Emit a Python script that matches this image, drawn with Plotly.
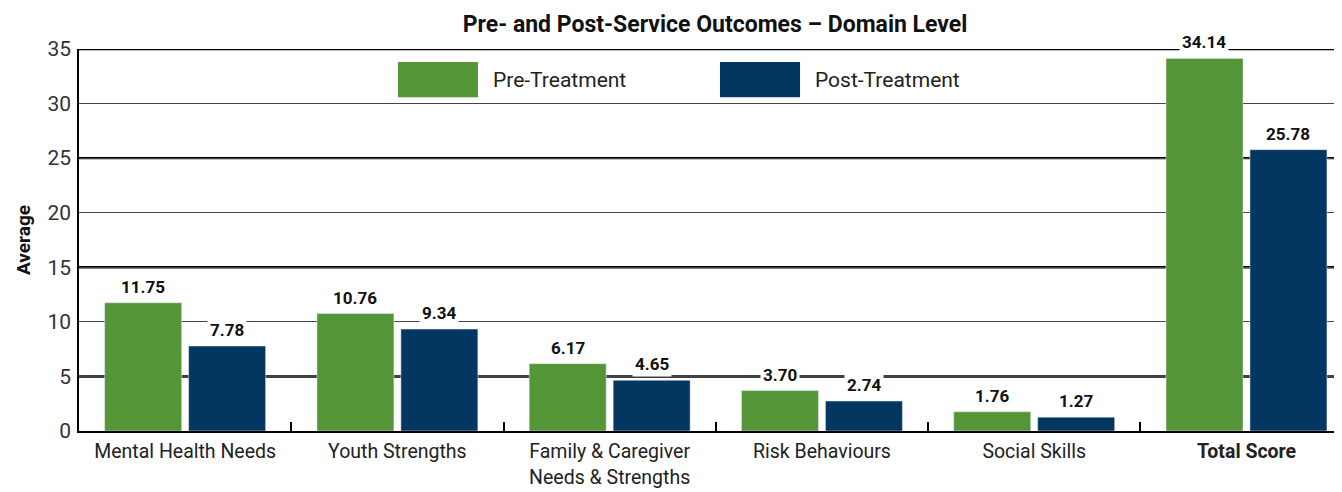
import plotly.graph_objects as go

categories = ["Mental Health Needs", "Youth Strengths", "Family & Caregiver<br>Needs & Strengths",
              "Risk Behaviours", "Social Skills", "<b>Total Score</b>"]
pre_values = [11.75, 10.76, 6.17, 3.70, 1.76, 34.14]
post_values = [7.78, 9.34, 4.65, 2.74, 1.27, 25.78]
series_names = ["Pre-Treatment", "Post-Treatment"]
y_ticks = [0, 5, 10, 15, 20, 25, 30, 35]
thick_grid = [5, 15, 25, 35]

GREEN = "#539537"
NAVY = "#033660"
FONT = "Roboto"

fig = go.Figure()
fig.add_bar(x=categories, y=pre_values, name=series_names[0], marker_color=GREEN, showlegend=False)
fig.add_bar(x=categories, y=post_values, name=series_names[1], marker_color=NAVY, showlegend=False)

annotations = []
for vals, shift in ((pre_values, -42), (post_values, 42)):
    for c, v in zip(categories, vals):
        annotations.append(dict(x=c, y=v, xref="x", yref="y", text=f"<b>{v:.2f}</b>",
                                showarrow=False, yanchor="bottom", xshift=shift, yshift=3,
                                bgcolor="white", borderpad=2,
                                font=dict(family=FONT, size=17, color="#111")))

# custom legend
leg = [(series_names[0], GREEN, 0.2526, 0.3159), (series_names[1], NAVY, 0.5075, 0.5709)]
shapes = []
for name, col, x0, x1 in leg:
    shapes.append(dict(type="rect", xref="paper", yref="paper", x0=x0, x1=x1, y0=0.874, y1=0.966,
                       fillcolor=col, line=dict(width=0)))
    annotations.append(dict(x=x1 + 0.0103, y=0.918, xref="paper", yref="paper", text=name,
                            showarrow=False, xanchor="left", yanchor="middle",
                            font=dict(family=FONT, size=21, color="#222")))
for g in thick_grid:
    shapes.append(dict(type="line", xref="paper", yref="y", x0=0, x1=1, y0=g, y1=g,
                       line=dict(color="black", width=2.4), layer="below"))

fig.update_layout(
    width=1334, height=484,
    margin=dict(l=71, r=0, t=41, b=61),
    paper_bgcolor="white", plot_bgcolor="white",
    barmode="group", bargap=0.209, bargroupgap=0.083,
    title=dict(text="<b>Pre- and Post-Service Outcomes – Domain Level</b>", x=0.53, xanchor="center",
               y=0.967, yanchor="middle", font=dict(family=FONT, size=23, color="#111")),
    font=dict(family=FONT),
    annotations=annotations, shapes=shapes,
)
fig.update_xaxes(range=[-0.5, 5.45], showline=True, linecolor="black", linewidth=2,
                 ticks="inside", tickson="boundaries", ticklen=9, tickcolor="black", tickwidth=1.5,
                 ticklabelstandoff=2, automargin=False,
                 tickfont=dict(family=FONT, size=19.5, color="#222"), showgrid=False)
fig.update_yaxes(range=[0, 35], tickvals=y_ticks, showline=True, linecolor="black", linewidth=1.5,
                 showgrid=True, gridcolor="#444", gridwidth=1, zeroline=False, ticks="",
                 ticklabelstandoff=2, automargin=False,
                 tickfont=dict(family=FONT, size=21, color="#333"),
                 title=dict(text="<b>Average</b>", font=dict(family=FONT, size=19, color="#111"), standoff=12))

fig.write_html("out.html")
